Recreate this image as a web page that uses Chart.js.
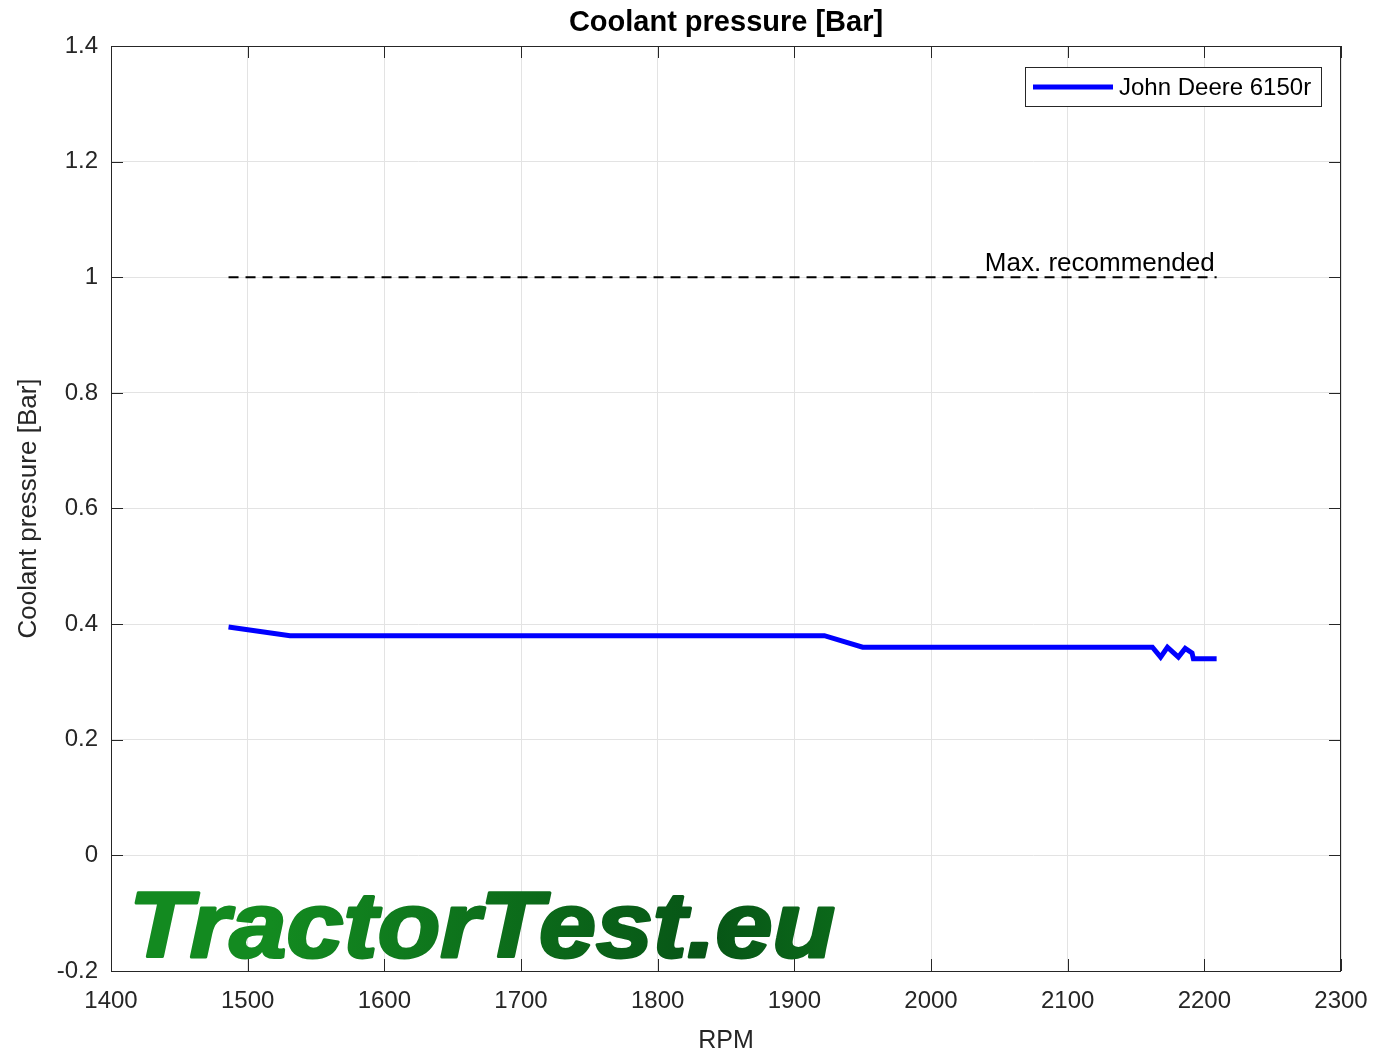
<!DOCTYPE html>
<html>
<head>
<meta charset="utf-8">
<script src="https://cdn.jsdelivr.net/npm/chart.js@4"></script>
<style>
  html, body { margin: 0; padding: 0; background: #fff; }
  #wrap { width: 1377px; height: 1056px; }
</style>
</head>
<body>
<div id="wrap"><canvas id="chart" width="1377" height="1056"></canvas></div>
<script>
// Data
const rpm = [1486, 1531, 1922, 1950, 2162, 2168, 2173, 2181, 2186, 2191, 2192, 2209];
const pressure = [0.395, 0.38, 0.38, 0.36, 0.36, 0.343, 0.36, 0.343, 0.358, 0.35, 0.34, 0.34];
const limitRpm = [1486, 2209];
const limitPressure = [1, 1];
const xTicks = [1400, 1500, 1600, 1700, 1800, 1900, 2000, 2100, 2200, 2300];
const yTicks = [-0.2, 0, 0.2, 0.4, 0.6, 0.8, 1, 1.2, 1.4];

const FONT = '"Liberation Sans", Arial, sans-serif';

// Title, inner ticks, legend, labels and watermark
const decorations = {
  id: 'decorations',
  beforeDatasetsDraw(chart) {
    const { ctx } = chart;
    ctx.save();
    // watermark
    ctx.font = 'italic bold 92px ' + FONT;
    const txt = 'TractorTest.eu';
    const w = ctx.measureText(txt).width;
    const g = ctx.createLinearGradient(128, 0, 838, 0);
    g.addColorStop(0, '#138a20');
    g.addColorStop(0.55, '#075516');
    g.addColorStop(1, '#138a20');
    ctx.fillStyle = g;
    ctx.strokeStyle = g;
    ctx.lineWidth = 3;
    ctx.lineJoin = 'round';
    ctx.textBaseline = 'alphabetic';
    ctx.translate(129, 957);
    ctx.scale(706 / w, 1);
    ctx.fillText(txt, 0, 0);
    ctx.strokeText(txt, 0, 0);
    ctx.restore();
  },
  afterDatasetsDraw(chart) {
    const { ctx, chartArea: a, scales: { x, y } } = chart;
    ctx.save();
    // inner ticks
    ctx.strokeStyle = '#262626';
    ctx.lineWidth = 1;
    ctx.beginPath();
    xTicks.forEach(v => {
      const px = Math.round(x.getPixelForValue(v)) + 0.5;
      ctx.moveTo(px, a.bottom); ctx.lineTo(px, a.bottom - 12);
      ctx.moveTo(px, a.top); ctx.lineTo(px, a.top + 12);
    });
    yTicks.forEach(v => {
      const py = Math.round(y.getPixelForValue(v)) + 0.5;
      ctx.moveTo(a.left, py); ctx.lineTo(a.left + 12, py);
      ctx.moveTo(a.right, py); ctx.lineTo(a.right - 12, py);
    });
    ctx.stroke();
    ctx.strokeRect(a.left + 0.5, a.top + 0.5, a.right - a.left - 1, a.bottom - a.top);

    // limit label
    ctx.fillStyle = '#000';
    ctx.font = '26px ' + FONT;
    ctx.textAlign = 'right';
    ctx.textBaseline = 'alphabetic';
    ctx.fillText('Max. recommended', x.getPixelForValue(limitRpm[1]) - 2, y.getPixelForValue(1) - 6);

    // title
    ctx.font = 'bold 29px ' + FONT;
    ctx.textAlign = 'center';
    ctx.textBaseline = 'middle';
    ctx.fillText('Coolant pressure [Bar]', (a.left + a.right) / 2, 23);

    // legend
    ctx.fillStyle = '#fff';
    ctx.fillRect(1025, 67, 296, 39);
    ctx.strokeStyle = '#262626';
    ctx.lineWidth = 1;
    ctx.strokeRect(1025.5, 67.5, 296, 39);
    ctx.strokeStyle = '#0000ff';
    ctx.lineWidth = 5;
    ctx.beginPath();
    ctx.moveTo(1033, 87); ctx.lineTo(1113, 87);
    ctx.stroke();
    ctx.fillStyle = '#000';
    ctx.font = '24px ' + FONT;
    ctx.textAlign = 'left';
    ctx.fillText(chart.data.datasets[0].label, 1119, 88);
    ctx.restore();
  }
};

new Chart(document.getElementById('chart'), {
  type: 'line',
  data: {
    datasets: [
      {
        label: 'John Deere 6150r',
        data: rpm.map((r, i) => ({ x: r, y: pressure[i] })),
        borderColor: '#0000ff',
        borderWidth: 5,
        pointRadius: 0,
        tension: 0,
        fill: false
      },
      {
        label: 'Max. recommended',
        data: limitRpm.map((r, i) => ({ x: r, y: limitPressure[i] })),
        borderColor: '#000',
        borderWidth: 2,
        borderDash: [10, 7],
        pointRadius: 0,
        fill: false
      }
    ]
  },
  options: {
    responsive: false,
    animation: false,
    layout: { padding: { top: 46, right: 36, left: 0, bottom: 0 } },
    plugins: {
      legend: { display: false },
      tooltip: { enabled: false },
      title: { display: false }
    },
    scales: {
      x: {
        type: 'linear',
        min: 1400, max: 2300,
        afterBuildTicks: s => { s.ticks = xTicks.map(v => ({ value: v })); },
        afterFit: s => { s.height = 85; s.paddingLeft = 0; s.paddingRight = 0; },
        grid: { color: '#e3e3e3', drawTicks: false },
        border: { display: false },
        ticks: {
          color: '#262626', font: { family: FONT, size: 24 }, padding: 16, maxRotation: 0,
          callback: v => String(v)
        },
        title: { display: true, text: 'RPM', color: '#262626', font: { family: FONT, size: 25 }, padding: { top: 0, bottom: 0 } }
      },
      y: {
        min: -0.2, max: 1.4,
        afterBuildTicks: s => { s.ticks = yTicks.map(v => ({ value: v })); },
        afterFit: s => { s.width = 111; s.paddingTop = 0; s.paddingBottom = 0; },
        grid: { color: '#e3e3e3', drawTicks: false },
        border: { display: false },
        ticks: {
          color: '#262626', font: { family: FONT, size: 24 }, padding: 13,
          callback: v => String(Math.round(v * 10) / 10)
        },
        title: { display: true, text: 'Coolant pressure [Bar]', color: '#262626', font: { family: FONT, size: 26 }, padding: { top: 13, bottom: 0 } }
      }
    }
  },
  plugins: [decorations]
});
</script>
</body>
</html>
